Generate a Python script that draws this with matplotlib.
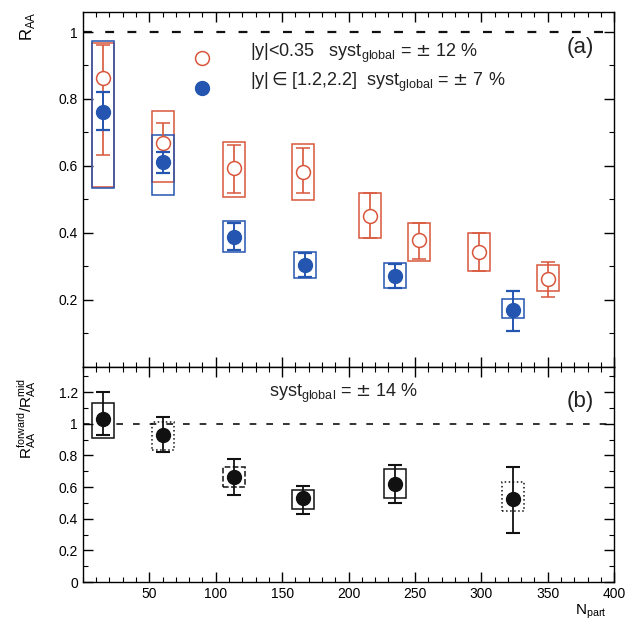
import matplotlib
matplotlib.use("Agg")
import matplotlib.pyplot as plt
from matplotlib.patches import Rectangle
from matplotlib.ticker import MultipleLocator, FixedLocator

plt.rcParams['font.family'] = ['Liberation Sans', 'DejaVu Sans']

# ---- data: mid rapidity |y|<0.35 ----
npart_mid = [15, 60, 114, 166, 216, 253, 298, 350]
raa_mid = [0.862, 0.668, 0.594, 0.582, 0.451, 0.379, 0.343, 0.263]
stat_mid_up = [0.10, 0.060, 0.069, 0.072, 0.068, 0.051, 0.057, 0.050]
stat_mid_lo = [0.23, 0.060, 0.074, 0.063, 0.066, 0.057, 0.056, 0.054]
sys_mid_lo = [0.537, 0.552, 0.508, 0.498, 0.385, 0.316, 0.287, 0.225]
sys_mid_hi = [0.967, 0.764, 0.672, 0.666, 0.519, 0.430, 0.400, 0.305]

# ---- data: forward rapidity |y| in [1.2,2.2] ----
npart_fwd = [15, 60, 114, 167, 235, 324]
raa_fwd = [0.761, 0.612, 0.388, 0.304, 0.272, 0.170]
stat_fwd_up = [0.059, 0.030, 0.042, 0.035, 0.035, 0.057]
stat_fwd_lo = [0.054, 0.033, 0.039, 0.035, 0.036, 0.063]
sys_fwd_lo = [0.534, 0.513, 0.343, 0.266, 0.236, 0.146]
sys_fwd_hi = [0.973, 0.693, 0.436, 0.343, 0.310, 0.203]

# ---- data: ratio forward / mid ----
npart_ratio = [15, 60, 114, 166, 235, 324]
ratio = [1.03, 0.93, 0.665, 0.53, 0.62, 0.525]
stat_ratio_up = [0.17, 0.11, 0.115, 0.08, 0.12, 0.205]
stat_ratio_lo = [0.10, 0.11, 0.115, 0.10, 0.12, 0.215]
sys_ratio_lo = [0.91, 0.835, 0.60, 0.46, 0.53, 0.45]
sys_ratio_hi = [1.13, 1.01, 0.73, 0.58, 0.715, 0.63]

top_yticks = [0.2, 0.4, 0.6, 0.8, 1.0]
top_yticklabels = ['0.2', '0.4', '0.6', '0.8', '1']
bot_yticks = [0, 0.2, 0.4, 0.6, 0.8, 1.0, 1.2]
bot_yticklabels = ['0', '0.2', '0.4', '0.6', '0.8', '1', '1.2']
xticks = [50, 100, 150, 200, 250, 300, 350, 400]

RED = '#d8573c'
BLUE = '#2455b0'
BLACK = '#111111'
HW = 8.3  # half width of systematic boxes in Npart units

fig = plt.figure(figsize=(6.28, 6.28), dpi=100)
ax1 = fig.add_axes([0.132, 0.416, 0.846, 0.565])
ax2 = fig.add_axes([0.132, 0.073, 0.846, 0.343], sharex=ax1)


def boxes(ax, xs, lo, hi, color, ls='-'):
    for x, l, h in zip(xs, lo, hi):
        ax.add_patch(Rectangle((x - HW, l), 2 * HW, h - l, fill=False,
                               edgecolor=color, lw=1.1, ls=ls, zorder=2))


# top panel
boxes(ax1, npart_mid, sys_mid_lo, sys_mid_hi, RED)
boxes(ax1, npart_fwd, sys_fwd_lo, sys_fwd_hi, BLUE)
ax1.errorbar(npart_mid, raa_mid, yerr=[stat_mid_lo, stat_mid_up], fmt='o',
             ms=10, mfc='white', mec=RED, mew=1.1, ecolor=RED, elinewidth=1.2,
             capsize=5, capthick=1.4, zorder=3)
ax1.errorbar(npart_fwd, raa_fwd, yerr=[stat_fwd_lo, stat_fwd_up], fmt='o',
             ms=10, mfc=BLUE, mec=BLUE, ecolor=BLUE, elinewidth=1.4,
             capsize=5, capthick=1.6, zorder=4)
ax1.axhline(1.0, color=BLACK, ls=(0, (4, 6)), lw=1.6, zorder=1)
ax1.set_xlim(0, 400)
ax1.set_ylim(0, 1.06)
ax1.yaxis.set_major_locator(FixedLocator(top_yticks))
ax1.set_yticklabels(top_yticklabels)
ax1.yaxis.set_minor_locator(MultipleLocator(0.1))
ax1.tick_params(labelbottom=False)

# legend texts
ax1.plot([90], [0.922], 'o', ms=10, mfc='white', mec=RED, mew=1.1)
ax1.plot([90], [0.833], 'o', ms=10, mfc=BLUE, mec=BLUE)
ax1.text(126, 0.935, r'|y|<0.35   syst$_{\mathregular{global}}$ = $\pm$ 12 %',
         fontsize=13, va='center', color='#222222')
ax1.text(126, 0.85, r'|y|$\in$[1.2,2.2]  syst$_{\mathregular{global}}$ = $\pm$ 7 %',
         fontsize=13, va='center', color='#222222')
ax1.text(364, 0.955, '(a)', fontsize=16, va='center', color='#222222')
ax1.text(-0.105, 0.96, r'R$_{\mathregular{AA}}$', transform=ax1.transAxes,
         rotation=90, fontsize=12, va='center', ha='center')

# bottom panel
ls_ratio = ['-', ':', '--', '-', '-', ':']
for x, l, h, ls in zip(npart_ratio, sys_ratio_lo, sys_ratio_hi, ls_ratio):
    ax2.add_patch(Rectangle((x - HW, l), 2 * HW, h - l, fill=False,
                            edgecolor=BLACK, lw=1.1, ls=ls, zorder=2))
ax2.errorbar(npart_ratio, ratio, yerr=[stat_ratio_lo, stat_ratio_up], fmt='o',
             ms=10, mfc=BLACK, mec=BLACK, ecolor=BLACK, elinewidth=1.3,
             capsize=5, capthick=1.5, zorder=4)
ax2.axhline(1.0, color=BLACK, ls=(0, (4, 6)), lw=1.2, zorder=1)
ax2.set_ylim(0, 1.36)
ax2.yaxis.set_major_locator(FixedLocator(bot_yticks))
ax2.set_yticklabels(bot_yticklabels)
ax2.yaxis.set_minor_locator(MultipleLocator(0.1))
ax2.text(196, 1.19, r'syst$_{\mathregular{global}}$ = $\pm$ 14 %',
         fontsize=13, ha='center', va='center', color='#222222')
ax2.text(364, 1.14, '(b)', fontsize=16, va='center', color='#222222')
ax2.text(0.985, -0.135, r'N$_{\mathregular{part}}$', transform=ax2.transAxes,
         fontsize=11, ha='right', va='center')
ax2.text(-0.105, 0.76,
         r'R$_{\mathregular{AA}}^{\mathregular{forward}}$/R$_{\mathregular{AA}}^{\mathregular{mid}}$',
         transform=ax2.transAxes, rotation=90, fontsize=11, va='center', ha='center')

for ax in (ax1, ax2):
    ax.xaxis.set_major_locator(FixedLocator(xticks))
    ax.xaxis.set_minor_locator(MultipleLocator(10))
    ax.tick_params(which='both', direction='in', top=True, right=True,
                   labelsize=10)
    ax.tick_params(which='major', length=7, width=1)
    ax.tick_params(which='minor', length=3.5, width=0.8)
    for s in ax.spines.values():
        s.set_linewidth(1.0)

fig.savefig('out.png', dpi=100)
